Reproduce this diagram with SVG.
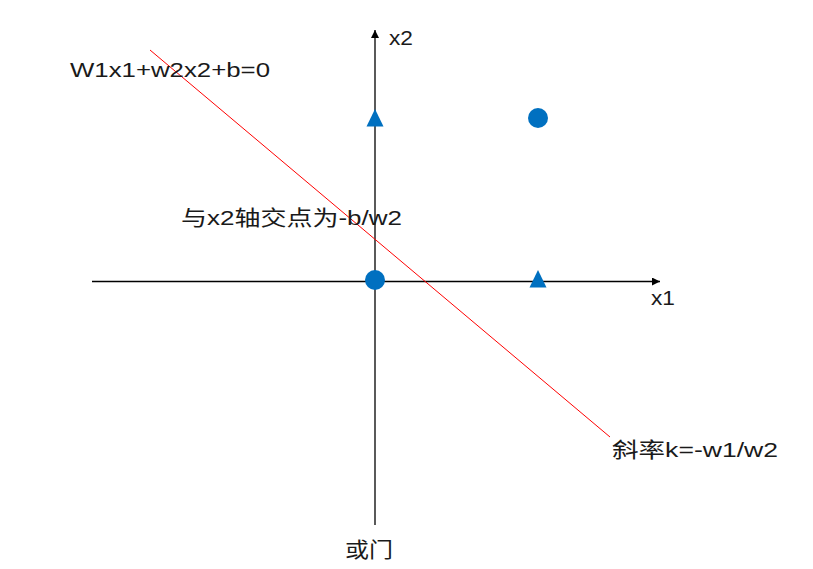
<svg xmlns="http://www.w3.org/2000/svg" width="813" height="569" viewBox="0 0 813 569">
<style>
.t{font-family:"Liberation Sans","Noto Sans CJK SC",sans-serif;font-size:21px;fill:#1a1a1a}
.ax{stroke:#000;stroke-width:1.3;fill:none}
.pt{fill:#0070C0}
</style>
<defs>
<marker id="arr" viewBox="0 0 10 10" refX="10" refY="5" markerWidth="8" markerHeight="8" markerUnits="userSpaceOnUse" orient="auto">
<path d="M0,0 L10,5 L0,10 z" fill="#000"/>
</marker>
</defs>
<rect width="813" height="569" fill="#fff"/>
<g id="connectors">
<line class="ax" x1="92" y1="281.5" x2="660" y2="281.5" marker-end="url(#arr)"/>
<line class="ax" x1="375" y1="525" x2="375" y2="30" marker-end="url(#arr)"/>
<line x1="150" y1="50" x2="610" y2="437" stroke="#FF0000" stroke-width="1"/>
</g>
<g id="points">
<path class="pt" d="M375,109 L383.5,126.5 L366.5,126.5 z"/>
<circle class="pt" cx="538" cy="118" r="10"/>
<circle class="pt" cx="375" cy="280" r="10"/>
<path class="pt" d="M538,270 L546.5,287.5 L529.5,287.5 z"/>
</g>
<g id="labels">
<text class="t" x="389" y="45" textLength="24" lengthAdjust="spacingAndGlyphs">x2</text>
<text class="t" x="651" y="305" textLength="24" lengthAdjust="spacingAndGlyphs">x1</text>
<text class="t" x="70" y="77" textLength="200" lengthAdjust="spacingAndGlyphs">W1x1+w2x2+b=0</text>
<text class="t" x="181" y="225" textLength="221" lengthAdjust="spacingAndGlyphs">与x2轴交点为-b/w2</text>
<text class="t" x="612" y="457" textLength="166" lengthAdjust="spacingAndGlyphs">斜率k=-w1/w2</text>
<text class="t" x="345" y="557" textLength="48" lengthAdjust="spacingAndGlyphs">或门</text>
</g>
</svg>
